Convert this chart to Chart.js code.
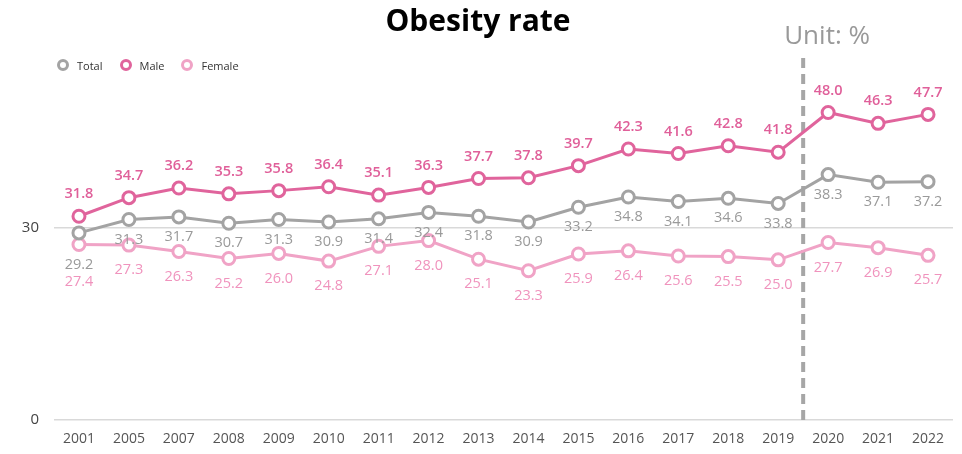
<!DOCTYPE html>
<html>
<head>
<meta charset="utf-8">
<script src="https://cdn.jsdelivr.net/npm/chart.js@4/dist/chart.umd.min.js"></script>
<style>
  html, body { margin: 0; padding: 0; background: #fff; }
  #wrap { position: relative; width: 962px; height: 454px; }
  #legend { position: absolute; left: 57px; top: 58px; display: flex; align-items: center;
    font-family: 'Open Sans', 'Noto Sans', sans-serif; font-size: 11px; color: #333; }
  #legend .item { display: flex; align-items: center; margin-right: 17px; height: 14px; }
  #legend .dot { width: 6px; height: 6px; border-radius: 50%; border: 3px solid; background: #fff; margin-right: 8px; }
</style>
</head>
<body>
<div id="wrap">
  <canvas id="chart" width="962" height="454"></canvas>
  <div id="legend"></div>
</div>
<script>
const years = ['2001', '2005', '2007', '2008', '2009', '2010', '2011', '2012', '2013', '2014', '2015', '2016', '2017', '2018', '2019', '2020', '2021', '2022'];
const total = [29.2, 31.3, 31.7, 30.7, 31.3, 30.9, 31.4, 32.4, 31.8, 30.9, 33.2, 34.8, 34.1, 34.6, 33.8, 38.3, 37.1, 37.2];
const male = [31.8, 34.7, 36.2, 35.3, 35.8, 36.4, 35.1, 36.3, 37.7, 37.8, 39.7, 42.3, 41.6, 42.8, 41.8, 48.0, 46.3, 47.7];
const female = [27.4, 27.3, 26.3, 25.2, 26.0, 24.8, 27.1, 28.0, 25.1, 23.3, 25.9, 26.4, 25.6, 25.5, 25.0, 27.7, 26.9, 25.7];
const yTicks = [0, 30];
const breakAfter = '2019';
const unitText = 'Unit: %';

const FONT = "'Open Sans', 'Noto Sans', sans-serif";
const GRAY = '#a3a3a3';
const PINK = '#e0649c';
const LIGHT = '#f0a3c6';

// value labels: male above the line, the others below.
// a label below a marker that sits too close to another series' marker
// goes under that marker instead, and labels that would touch are stacked.
const valueLabels = {
  id: 'valueLabels',
  afterDatasetsDraw(chart) {
    const ctx = chart.ctx;
    const metas = chart.data.datasets.map((ds, i) => chart.getDatasetMeta(i));
    const placed = years.map(() => []);
    ctx.save();
    ctx.textAlign = 'center';
    ctx.textBaseline = 'middle';
    chart.data.datasets.forEach((ds, i) => {
      ctx.fillStyle = ds.labelColor;
      ctx.font = ds.labelWeight + ' 14.5px ' + FONT;
      metas[i].data.forEach((pt, j) => {
        let y = pt.y + ds.labelOffset;
        if (ds.labelOffset > 0) {
          metas.forEach((m, k) => {
            if (k === i) return;
            const other = m.data[j].y;
            if (other > pt.y && other - pt.y < 16) y = other + ds.labelOffset;
          });
          placed[j].forEach(py => { if (Math.abs(y - py) < 16) y = py + 17; });
        }
        placed[j].push(y);
        ctx.fillText(ds.data[j].toFixed(1), pt.x, y);
      });
    });
    ctx.restore();
  }
};

// dashed separator and unit note
const extras = {
  id: 'extras',
  beforeDatasetsDraw(chart) {
    const ctx = chart.ctx;
    const x = chart.scales.x;
    const i = years.indexOf(breakAfter);
    const px = (x.getPixelForValue(i) + x.getPixelForValue(i + 1)) / 2;
    ctx.save();
    ctx.strokeStyle = '#a6a6a6';
    ctx.lineWidth = 4;
    ctx.setLineDash([10, 6]);
    ctx.beginPath();
    ctx.moveTo(px, chart.chartArea.top);
    ctx.lineTo(px, chart.chartArea.bottom);
    ctx.stroke();
    ctx.restore();
  },
  afterDraw(chart) {
    const ctx = chart.ctx;
    const x = chart.scales.x;
    const i = years.indexOf(breakAfter);
    const px = (x.getPixelForValue(i) + x.getPixelForValue(i + 1)) / 2;
    ctx.save();
    ctx.fillStyle = '#999999';
    ctx.font = '26px ' + FONT;
    ctx.textAlign = 'left';
    ctx.textBaseline = 'middle';
    ctx.fillText(unitText, px - 19, 37);
    ctx.restore();
  }
};

const chart = new Chart(document.getElementById('chart'), {
  type: 'line',
  data: {
    labels: years,
    datasets: [
      {
        label: 'Total', data: total,
        borderColor: GRAY, backgroundColor: '#ffffff', pointBorderColor: GRAY,
        labelColor: '#9a9a9a', labelWeight: 'normal', labelOffset: 20
      },
      {
        label: 'Male', data: male,
        borderColor: PINK, backgroundColor: '#ffffff', pointBorderColor: PINK,
        labelColor: '#e0609a', labelWeight: '600', labelOffset: -22
      },
      {
        label: 'Female', data: female,
        borderColor: LIGHT, backgroundColor: '#ffffff', pointBorderColor: LIGHT,
        labelColor: '#f093bd', labelWeight: 'normal', labelOffset: 25
      }
    ]
  },
  options: {
    responsive: false,
    animation: false,
    layout: { padding: { left: 0, right: 6, top: 0, bottom: 0 } },
    elements: {
      line: { borderWidth: 3, tension: 0 },
      point: { radius: 6, borderWidth: 3, hoverRadius: 6 }
    },
    scales: {
      x: {
        offset: true,
        grid: { display: false, drawTicks: false },
        border: { display: false },
        ticks: { color: '#555555', font: { family: FONT, size: 14 }, padding: 11, maxRotation: 0, autoSkip: false },
        afterFit(s) { s.height = 34; }
      },
      y: {
        min: 0,
        max: 56.5,
        afterBuildTicks(s) { s.ticks = yTicks.map(v => ({ value: v })); },
        grid: { color: '#d9d9d9', lineWidth: 1.5, drawTicks: false },
        border: { display: false },
        ticks: { color: '#444444', font: { family: FONT, size: 15 }, padding: 15 },
        afterFit(s) { s.width = 54; }
      }
    },
    plugins: {
      title: {
        display: true,
        text: 'Obesity rate',
        color: '#000000',
        font: { family: FONT, size: 30, weight: 'bold', lineHeight: 1.2 },
        padding: { top: 4, bottom: 18 }
      },
      legend: { display: false },
      tooltip: { enabled: false }
    }
  },
  plugins: [extras, valueLabels]
});

// legend built from the chart's own legend items
const legendEl = document.getElementById('legend');
chart.options.plugins.legend.labels.generateLabels(chart).forEach(item => {
  const el = document.createElement('div');
  el.className = 'item';
  const dot = document.createElement('span');
  dot.className = 'dot';
  dot.style.borderColor = item.strokeStyle;
  el.appendChild(dot);
  el.appendChild(document.createTextNode(item.text));
  legendEl.appendChild(el);
});
</script>
</body>
</html>
